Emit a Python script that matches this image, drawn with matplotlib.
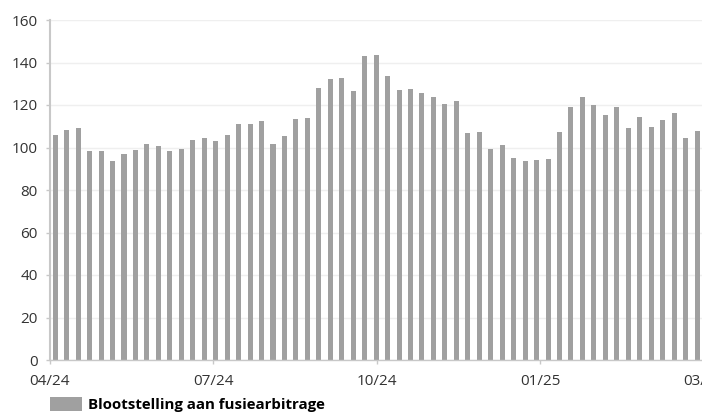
import numpy as np
import matplotlib
matplotlib.use('Agg')
import matplotlib.pyplot as plt

# weekly exposure values
values = [105.9, 108.2, 109.2, 98.4, 98.4, 93.6, 96.9, 98.8, 101.6, 100.7,
          98.4, 99.3, 103.5, 104.5, 103.1, 105.9, 111.1, 111.1, 112.5, 101.6,
          105.4, 113.4, 113.9, 128.0, 132.2, 132.7, 126.6, 143.1, 143.5, 133.6,
          127.1, 127.5, 125.6, 123.8, 120.5, 121.9, 106.8, 107.3, 99.3, 101.2,
          95.1, 93.6, 94.1, 94.6, 107.3, 119.1, 123.8, 120.0, 115.3, 119.1,
          109.2, 114.4, 109.6, 112.9, 116.2, 104.5, 107.8]
tick_labels = ['04/24', '07/24', '10/24', '01/25', '03/25']
series_name = 'Blootstelling aan fusiearbitrage'

plt.rcParams['font.family'] = ['Open Sans', 'DejaVu Sans']

fig = plt.figure(figsize=(7.02, 4.16), dpi=100)
# axes runs a little past the right edge, like the original
ax = fig.add_axes([49.5 / 702, 56 / 416, 659 / 702, 340 / 416])

x = np.arange(len(values))
bars = ax.bar(x, values, width=0.44, color='#a0a0a0', zorder=2, label=series_name)

ax.set_xlim(-0.5, 57.0)
ax.set_ylim(0, 160)
ax.set_yticks(np.arange(0, 161, 20))
ax.yaxis.grid(True, color='#efefef', linewidth=1, zorder=0)

step = 14.27
ax.set_xticks([-0.5 + k * step for k in range(len(tick_labels))])
ax.set_xticklabels(tick_labels)

for s in ['top', 'right']:
    ax.spines[s].set_visible(False)
ax.spines['left'].set_color('#c8c8c8')
ax.spines['left'].set_linewidth(1.5)
ax.spines['bottom'].set_color('#c8c8c8')
ax.spines['bottom'].set_linewidth(1)

ax.tick_params(axis='y', length=3, width=1, color='#c8c8c8', pad=5.5,
               labelsize=11, labelcolor='#333333')
ax.tick_params(axis='x', length=3, width=1, color='#c8c8c8', pad=7,
               labelsize=11, labelcolor='#333333')

fig.legend(handles=[bars], labels=[series_name], loc='upper left',
           bbox_to_anchor=(50 / 702, 1 - 397 / 416), frameon=False,
           borderpad=0, borderaxespad=0, handlelength=2.1, handleheight=1.1,
           handletextpad=0.45, prop={'weight': 'bold', 'size': 10.8})

fig.savefig('out.png', dpi=100)
